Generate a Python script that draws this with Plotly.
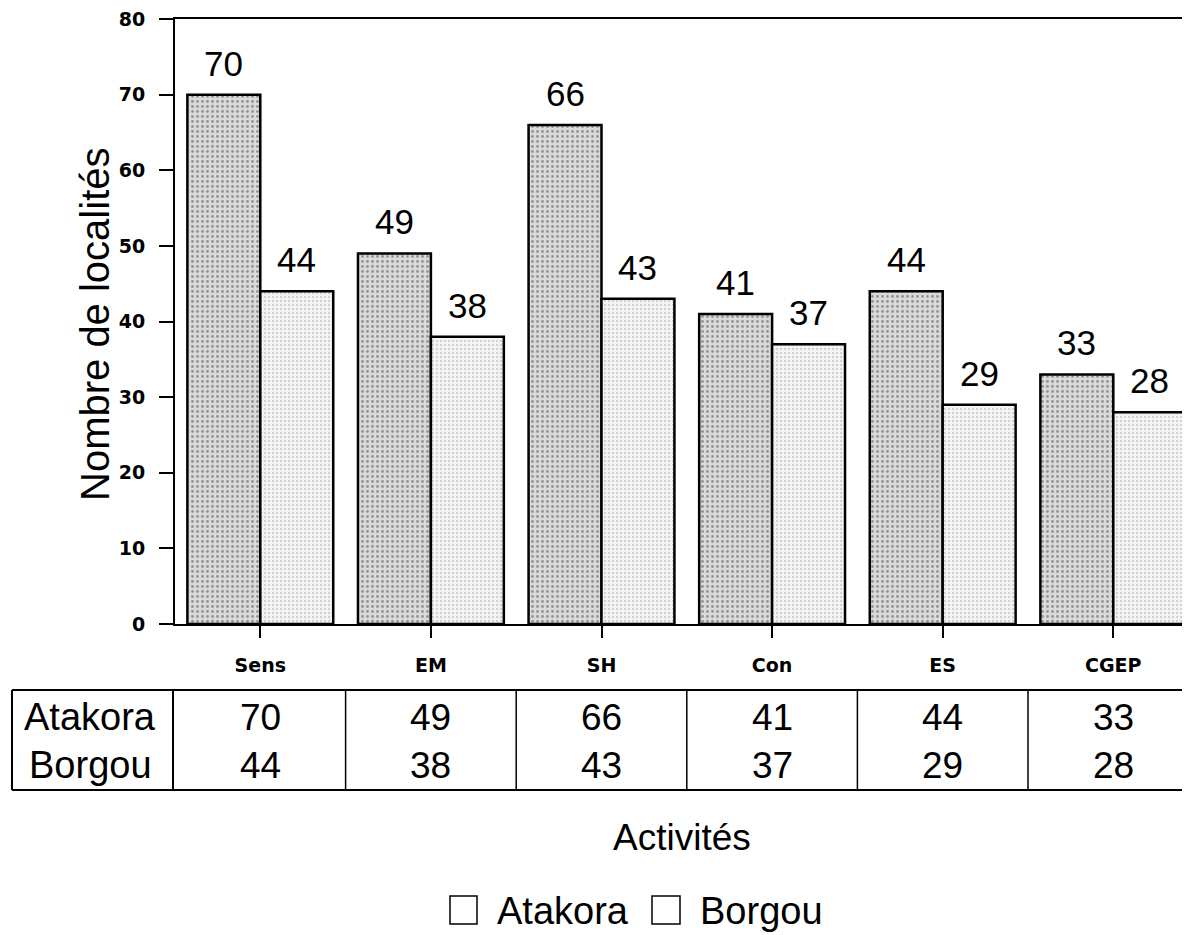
import plotly.graph_objects as go

categories = ["Sens", "EM", "SH", "Con", "ES", "CGEP"]
atakora = [70, 49, 66, 41, 44, 33]
borgou = [44, 38, 43, 37, 29, 28]
series_names = ["Atakora", "Borgou"]
y_ticks = [0, 10, 20, 30, 40, 50, 60, 70, 80]

# the page body adds an 8px margin, so the figure is drawn in page coords minus 8
OFF = 8
W, H = 1190 - OFF, 935 - OFF
ML, MR, MT, MB = 175 - OFF, 0, 19 - OFF, 311
BARGAP = 0.145
plot_w = W - ML - MR
plot_h = H - MT - MB

def px_x(px):
    return (px - OFF - ML) / plot_w

def px_y(py):
    return (H - MB - (py - OFF)) / plot_h

BIG = "Liberation Sans, Arial, sans-serif"
BOLD = "DejaVu Sans, sans-serif"

fig = go.Figure()
fig.add_trace(go.Bar(
    x=categories, y=atakora, name=series_names[0],
    marker=dict(color="#d4d4d4",
                line=dict(color="black", width=2.5),
                pattern=dict(shape=".", fgcolor="#505050", bgcolor="#dadada",
                             size=5, solidity=0.27)),
    showlegend=False,
))
fig.add_trace(go.Bar(
    x=categories, y=borgou, name=series_names[1],
    marker=dict(color="#f0f0f0",
                line=dict(color="black", width=2.5),
                pattern=dict(shape=".", fgcolor="#909090", bgcolor="#f3f3f3",
                             size=4, solidity=0.16)),
    showlegend=False,
))

annotations = []
half = (1 - BARGAP) / 4.0
for i, (a, b) in enumerate(zip(atakora, borgou)):
    annotations.append(dict(x=i - half, y=a, xref="x", yref="y", text=str(a),
                            showarrow=False, yanchor="bottom", yshift=10,
                            font=dict(family=BIG, size=35, color="black")))
    annotations.append(dict(x=i + half, y=b, xref="x", yref="y", text=str(b),
                            showarrow=False, yanchor="bottom", yshift=10,
                            font=dict(family=BIG, size=35, color="black")))

# data table under the axis
row_y = [px_y(717), px_y(765)]
for name, vals, ry in zip(series_names, [atakora, borgou], row_y):
    annotations.append(dict(x=px_x(90), y=ry, xref="paper", yref="paper", text=name,
                            showarrow=False, xanchor="center", yanchor="middle",
                            font=dict(family=BIG, size=38, color="black")))
    for i, v in enumerate(vals):
        annotations.append(dict(x=i, y=ry, xref="x", yref="paper", text=str(v),
                                showarrow=False, xanchor="center", yanchor="middle",
                                font=dict(family=BIG, size=37, color="black")))

shapes = []
t_top, t_bot = px_y(690), px_y(790)
for yy in (t_top, t_bot):
    shapes.append(dict(type="line", xref="paper", yref="paper",
                       x0=px_x(12), x1=1.0, y0=yy, y1=yy,
                       line=dict(color="black", width=2)))
shapes.append(dict(type="line", xref="paper", yref="paper",
                   x0=px_x(12), x1=px_x(12), y0=t_top, y1=t_bot,
                   line=dict(color="black", width=2)))
shapes.append(dict(type="line", xref="paper", yref="paper",
                   x0=px_x(173), x1=px_x(173), y0=t_top, y1=t_bot,
                   line=dict(color="black", width=2)))
for i in range(len(categories) - 1):
    shapes.append(dict(type="line", xref="x", yref="paper",
                       x0=i + 0.5, x1=i + 0.5, y0=t_top, y1=t_bot,
                       line=dict(color="black", width=1.5)))

# x title
annotations.append(dict(x=px_x(682), y=px_y(837), xref="paper", yref="paper",
                        text="Activités", showarrow=False,
                        xanchor="center", yanchor="middle",
                        font=dict(family=BIG, size=37, color="black")))
# y title
annotations.append(dict(x=px_x(95), y=px_y(324), xref="paper", yref="paper",
                        text="Nombre de localités", showarrow=False, textangle=-90,
                        xanchor="center", yanchor="middle",
                        font=dict(family=BIG, size=40, color="black")))

# legend
leg = [(450, 477, 495, series_names[0]), (652, 680, 698, series_names[1])]
for bx0, bx1, tx, name in leg:
    shapes.append(dict(type="rect", xref="paper", yref="paper",
                       x0=px_x(bx0), x1=px_x(bx1), y0=px_y(924), y1=px_y(896),
                       line=dict(color="black", width=1.5), fillcolor="white"))
    annotations.append(dict(x=px_x(tx), y=px_y(911), xref="paper", yref="paper",
                            text=name, showarrow=False, xanchor="left", yanchor="middle",
                            font=dict(family=BIG, size=38, color="black")))

fig.update_layout(
    width=W, height=H,
    margin=dict(l=ML, r=MR, t=MT, b=MB, pad=0),
    paper_bgcolor="white", plot_bgcolor="white",
    barmode="group", bargap=BARGAP, bargroupgap=0,
    annotations=annotations, shapes=shapes,
    showlegend=False,
)
fig.update_xaxes(
    type="category", categoryorder="array", categoryarray=categories,
    range=[-0.5, -0.5 + plot_w / 170.6],
    showline=True, linecolor="black", linewidth=2, mirror=True,
    ticks="outside", ticklen=12, tickwidth=1.5, tickcolor="black",
    ticklabelstandoff=11, ticklabeloverflow="allow",
    tickfont=dict(family=BOLD, size=19, color="black", weight="bold"),
    showgrid=False, zeroline=False,
)
fig.update_yaxes(
    range=[0, 80], tickvals=y_ticks,
    showline=True, linecolor="black", linewidth=2,
    ticks="outside", ticklen=14, tickwidth=1.5, tickcolor="black",
    ticklabelstandoff=10, ticklabeloverflow="allow",
    tickfont=dict(family=BOLD, size=19, color="black", weight="bold"),
    showgrid=False, zeroline=False,
)

fig.write_html("out.html")
